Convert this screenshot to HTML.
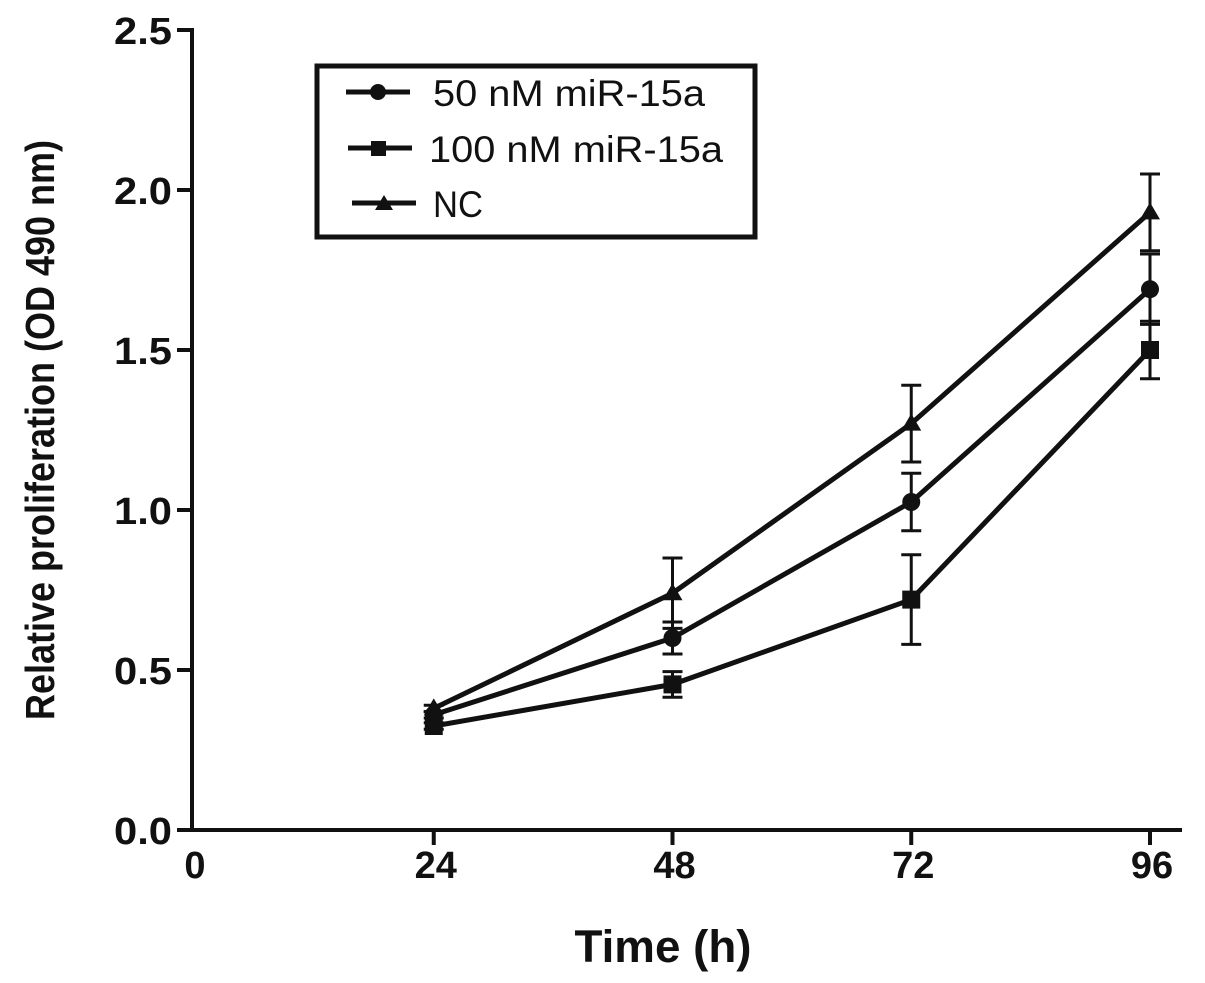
<!DOCTYPE html>
<html><head><meta charset="utf-8"><style>
html,body{margin:0;padding:0;background:#fff;}
svg{display:block;font-family:"Liberation Sans",Arial,sans-serif;}
</style></head><body>
<svg id="chart" width="1205" height="983" viewBox="0 0 1205 983">
<g id="axes"></g><g id="series"></g>
<g>
<rect x="317" y="66" width="438" height="171" fill="#fff" stroke="#111" stroke-width="5"/>
<g>
<line x1="346" y1="92" x2="410" y2="92" stroke="#111" stroke-width="5"/><circle cx="378" cy="92" r="8" fill="#111"/>
<text x="433" y="106" font-size="37" fill="#111" textLength="272" lengthAdjust="spacingAndGlyphs">50 nM miR-15a</text></g>
<g>
<line x1="348" y1="148" x2="412" y2="148" stroke="#111" stroke-width="5"/><rect x="371" y="141" width="15" height="15" fill="#111"/>
<text x="429" y="162" font-size="37" fill="#111" textLength="294" lengthAdjust="spacingAndGlyphs">100 nM miR-15a</text></g>
<g>
<line x1="352" y1="203" x2="416" y2="203" stroke="#111" stroke-width="5"/><polygon points="384,195 393,210 375,210" fill="#111"/>
<text x="433" y="217" font-size="37" fill="#111" textLength="50" lengthAdjust="spacingAndGlyphs">NC</text></g>
</g>
<text x="663" y="962" font-size="45" font-weight="bold" text-anchor="middle" fill="#111" textLength="177" lengthAdjust="spacingAndGlyphs">Time (h)</text>
<text transform="translate(54,430) rotate(-90)" font-size="41" font-weight="bold" text-anchor="middle" fill="#111" textLength="580" lengthAdjust="spacingAndGlyphs">Relative proliferation (OD 490 nm)</text>
</svg>
<script>
const xTicks=[0,24,48,72,96];
const yTicks=[0,0.5,1.0,1.5,2.0,2.5];
const times=[24,48,72,96];
const nc=[0.38,0.74,1.27,1.93];
const ncErr=[0.01,0.11,0.12,0.12];
const nm50=[0.36,0.60,1.025,1.69];
const nm50Err=[0.01,0.05,0.09,0.11];
const nm100=[0.325,0.455,0.72,1.50];
const nm100Err=[0.01,0.04,0.14,0.09];
const NS='http://www.w3.org/2000/svg';
const X=v=>195+v*(1150-195)/96;
const Y=v=>830-v*320;
function mk(tag,attrs,parent){const e=document.createElementNS(NS,tag);for(const k in attrs)e.setAttribute(k,attrs[k]);parent.appendChild(e);return e;}
const ax=document.getElementById('axes');
let e=mk('line',{x1:192,y1:28,x2:192,y2:832,stroke:'#111','stroke-width':4},ax);


e=mk('line',{x1:177,y1:830,x2:1182,y2:830,stroke:'#111','stroke-width':4},ax);


yTicks.forEach(t=>{
 mk('line',{x1:177,y1:Y(t),x2:192,y2:Y(t),stroke:'#111','stroke-width':4},ax);
 const tx=mk('text',{x:172,y:Y(t)+14,'font-size':38,'font-weight':'bold','text-anchor':'end',fill:'#111',textLength:58,lengthAdjust:'spacingAndGlyphs'},ax);
 tx.textContent=t.toFixed(1);
 
 
});
xTicks.forEach(t=>{
 if(t>0)mk('line',{x1:X(t),y1:830,x2:X(t),y2:845,stroke:'#111','stroke-width':4},ax);
 const tx=mk('text',{x:X(t)+(t===0?0:2),y:878,'font-size':38,'font-weight':'bold','text-anchor':'middle',fill:'#111'},ax);
 tx.textContent=t;
 
 
});
const sg=document.getElementById('series');
function series(name,vals,errs,marker){
 const g=mk('g',{},sg);
 
 
 mk('polyline',{points:times.map((t,i)=>X(t)+','+Y(vals[i])).join(' '),fill:'none',stroke:'#111','stroke-width':5},g);
 times.forEach((t,i)=>{
  const x=X(t),y=Y(vals[i]),hi=Y(vals[i]+errs[i]),lo=Y(vals[i]-errs[i]);
  mk('line',{x1:x,y1:hi,x2:x,y2:lo,stroke:'#111','stroke-width':3},g);
  mk('line',{x1:x-10,y1:hi,x2:x+10,y2:hi,stroke:'#111','stroke-width':3},g);
  mk('line',{x1:x-10,y1:lo,x2:x+10,y2:lo,stroke:'#111','stroke-width':3},g);
  let m;
  if(marker==='circle')m=mk('circle',{cx:x,cy:y,r:9,fill:'#111'},g);
  else if(marker==='square')m=mk('rect',{x:x-9,y:y-9,width:18,height:18,fill:'#111'},g);
  else m=mk('polygon',{points:`${x},${y-10} ${x+10},${y+7} ${x-10},${y+7}`,fill:'#111'},g);
  
  
 });
}
series('series-nc',nc,ncErr,'triangle');
series('series-50nm',nm50,nm50Err,'circle');
series('series-100nm',nm100,nm100Err,'square');
</script>
</body></html>
